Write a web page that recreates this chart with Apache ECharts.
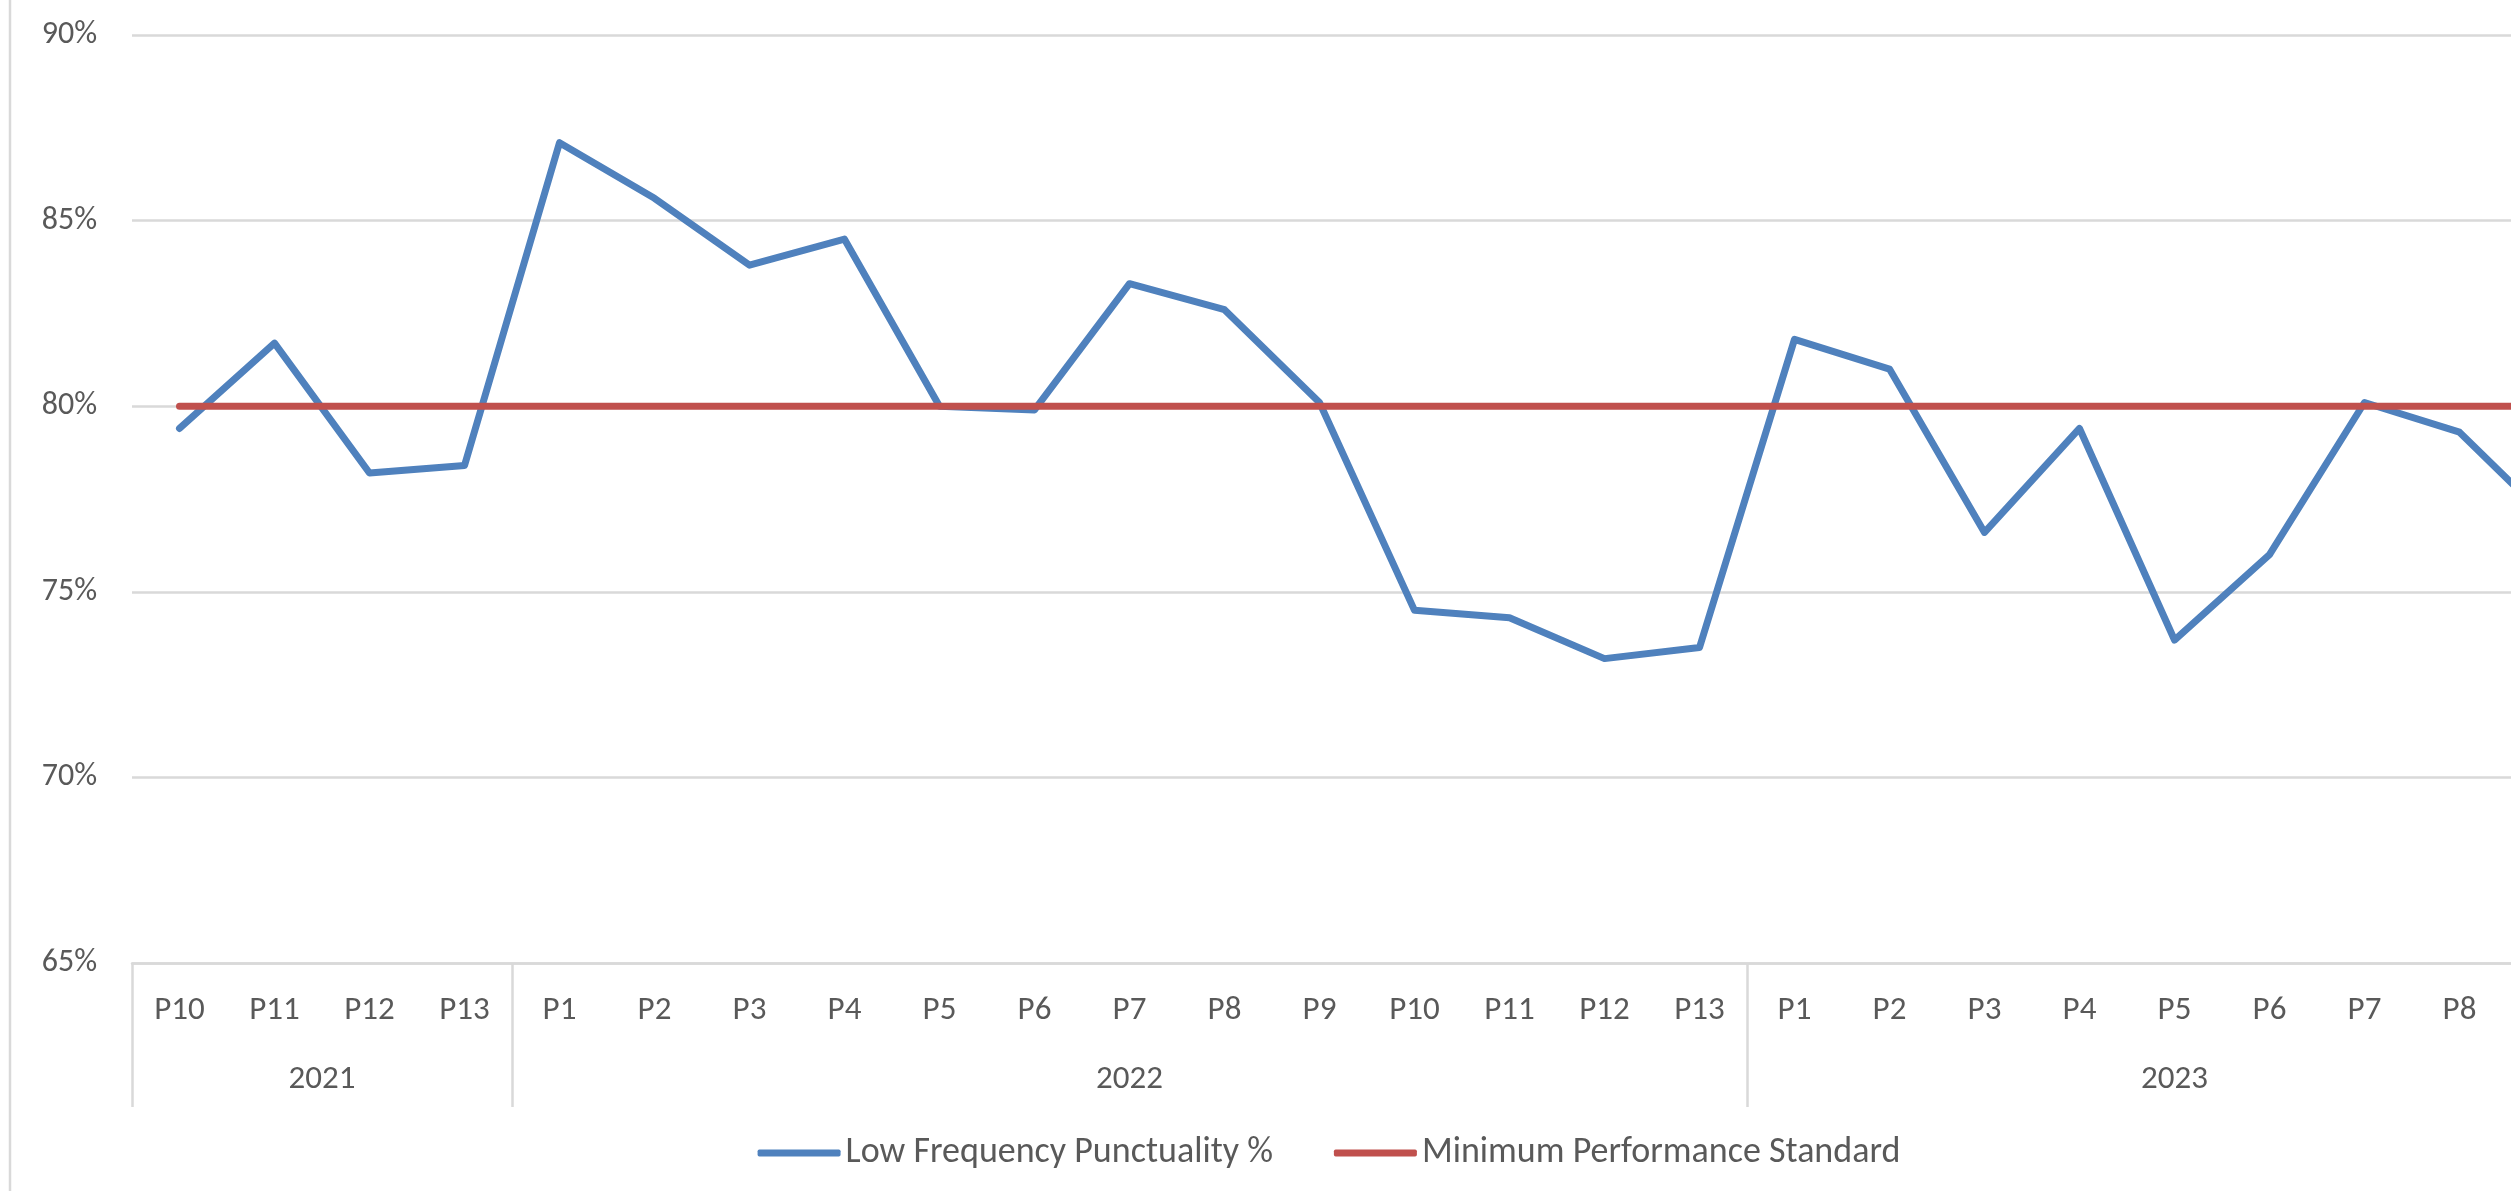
<!DOCTYPE html>
<html>
<head>
<meta charset="utf-8">
<title>Low Frequency Punctuality</title>
<script src="https://cdn.jsdelivr.net/npm/echarts@6/dist/echarts.min.js"></script>
<style>
  html, body { margin: 0; padding: 0; background: #fff; overflow: hidden; }
  #chart { width: 2658px; height: 1191px; }
</style>
</head>
<body>
<div id="chart"></div>
<script>
// years and how many periods each one covers (chart is cropped on the right, 2023 runs to P9)
const years = ['2021', '2022', '2023'];
const periodsPerYear = [
  ['P10', 'P11', 'P12', 'P13'],
  ['P1', 'P2', 'P3', 'P4', 'P5', 'P6', 'P7', 'P8', 'P9', 'P10', 'P11', 'P12', 'P13'],
  ['P1', 'P2', 'P3', 'P4', 'P5', 'P6', 'P7', 'P8', 'P9']
];

const punctuality = [
  79.4, 81.7, 78.2, 78.4,
  87.1, 85.6, 83.8, 84.5, 80.0, 79.9, 83.3, 82.6, 80.1, 74.5, 74.3, 73.2, 73.5,
  81.8, 81.0, 76.6, 79.4, 73.7, 76.0, 80.1, 79.3, 76.8
];

const minStandard = [
  80, 80, 80, 80,
  80, 80, 80, 80, 80, 80, 80, 80, 80, 80, 80, 80, 80,
  80, 80, 80, 80, 80, 80, 80, 80, 80
];

const yTicks = [65, 70, 75, 80, 85, 90];

// flat category list + group boundaries / centres for the year row
const periods = [].concat(...periodsPerYear);
const boundaries = [0];
const centres = [];
periodsPerYear.forEach(function (p) {
  const start = boundaries[boundaries.length - 1];
  centres.push(start + p.length / 2);
  boundaries.push(start + p.length);
});

const font = 'Calibri, Carlito, Lato';
const textColor = '#595959';
const gridColor = '#d9d9d9';

const chart = echarts.init(document.getElementById('chart'));
chart.setOption({
  animation: false,
  textStyle: { fontFamily: font, color: textColor },
  grid: { left: 132, right: 56, top: 35, bottom: 228 },
  graphic: [
    {
      type: 'line',
      shape: { x1: 10, y1: 0, x2: 10, y2: 1191 },
      style: { stroke: gridColor, lineWidth: 2.5 },
      silent: true
    }
  ],
  legend: {
    top: 1130,
    left: 'center',
    itemWidth: 83,
    itemHeight: 7,
    itemGap: 61,
    icon: 'roundRect',
    textStyle: { fontFamily: font, fontSize: 36, color: textColor }
  },
  xAxis: [
    {
      type: 'category',
      data: periods,
      boundaryGap: true,
      axisLine: { lineStyle: { color: gridColor, width: 2.5 } },
      axisTick: { show: false },
      axisLabel: { fontFamily: font, fontSize: 33, color: textColor, margin: 31, interval: 0 }
    },
    {
      type: 'value',
      min: 0,
      max: periods.length,
      position: 'bottom',
      axisLine: { show: false },
      splitLine: { show: false },
      axisTick: {
        show: true,
        customValues: boundaries,
        length: 144,
        lineStyle: { color: gridColor, width: 2.5 }
      },
      axisLabel: {
        customValues: centres,
        formatter: function (v) {
          return years[centres.indexOf(v)];
        },
        fontFamily: font,
        fontSize: 33,
        color: textColor,
        margin: 100
      }
    }
  ],
  yAxis: {
    type: 'value',
    min: yTicks[0],
    max: yTicks[yTicks.length - 1],
    interval: 5,
    axisLine: { show: false },
    axisTick: { show: false },
    axisLabel: { formatter: '{value}%', fontFamily: font, fontSize: 32, color: textColor, margin: 35 },
    splitLine: { lineStyle: { color: gridColor, width: 2.5 } }
  },
  series: [
    {
      name: 'Low Frequency Punctuality %',
      type: 'line',
      data: punctuality,
      symbol: 'none',
      itemStyle: { color: '#4f81bd' },
      lineStyle: { color: '#4f81bd', width: 7, cap: 'round', join: 'round' }
    },
    {
      name: 'Minimum Performance Standard',
      type: 'line',
      data: minStandard,
      symbol: 'none',
      itemStyle: { color: '#c0504d' },
      lineStyle: { color: '#c0504d', width: 7, cap: 'round', join: 'round' }
    }
  ]
});
</script>
</body>
</html>
